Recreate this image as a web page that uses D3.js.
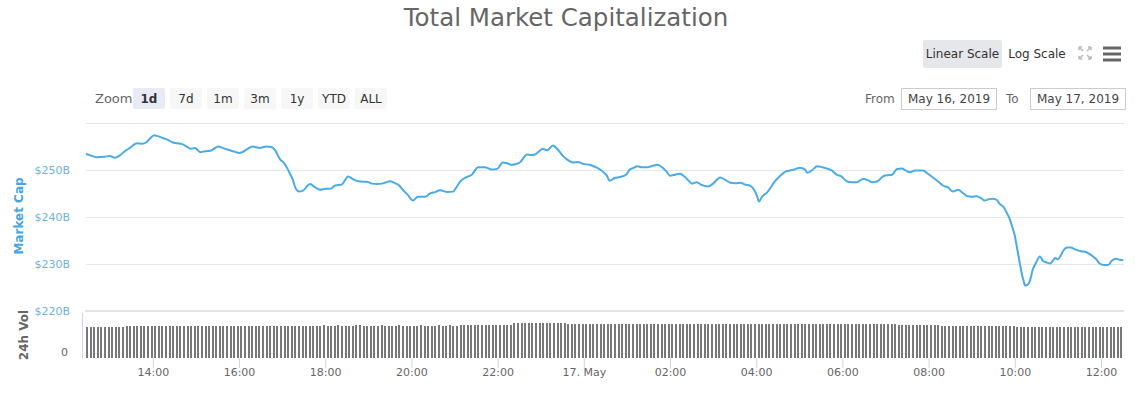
<!DOCTYPE html>
<html>
<head>
<meta charset="utf-8">
<script src="https://cdn.jsdelivr.net/npm/d3@7"></script>
<style>
  body { margin: 0; background: #fff; }
  svg { display: block; font-family: "DejaVu Sans", Verdana, sans-serif; }
</style>
</head>
<body>
<svg id="chart" width="1135" height="399"></svg>
<script>
// Data: total market cap (billions USD), minutes after 16 May 2019 12:27
const startTime = new Date(2019, 4, 16, 12, 27);
const capMinutes = [
  0, 8, 15, 26, 33, 40, 47, 54, 61, 71, 78, 84, 89, 95, 100, 107, 114, 120, 127, 134,
  141, 146, 152, 159, 166, 173, 178, 184, 192, 200, 209, 214, 223, 232, 242, 251, 258, 263, 270, 276,
  280, 284, 288, 292, 297, 302, 312, 319, 326, 334, 340, 347, 356, 365, 372, 379, 386, 391, 398, 405,
  412, 418, 423, 430, 436, 441, 448, 455, 462, 472, 479, 486, 493, 503, 511, 516, 521, 530, 537, 546,
  555, 565, 573, 580, 587, 593, 599, 604, 614, 620, 625, 631, 636, 642, 650, 657, 664, 670, 678, 685,
  692, 701, 711, 720, 725, 729, 736, 743, 752, 757, 763, 767, 774, 782, 789, 795, 802, 808, 813, 820,
  827, 834, 844, 850, 856, 866, 873, 878, 883, 890, 897, 904, 911, 917, 924, 930, 934, 937, 941, 948,
  955, 959, 966, 973, 980, 986, 994, 1001, 1004, 1011, 1018, 1025, 1032, 1038, 1045, 1052, 1059, 1066, 1073, 1082,
  1089, 1094, 1102, 1109, 1116, 1122, 1129, 1136, 1141, 1147, 1154, 1165, 1172, 1179, 1186, 1193, 1200, 1207, 1214, 1220,
  1227, 1233, 1240, 1246, 1251, 1257, 1263, 1268, 1272, 1277, 1281, 1285, 1289, 1293, 1296, 1300, 1303, 1306, 1307, 1311,
  1314, 1318, 1322, 1328, 1332, 1338, 1342, 1346, 1349, 1353, 1357, 1360, 1366, 1371, 1377, 1379, 1385, 1391, 1396, 1402,
  1407, 1411, 1417, 1423, 1428, 1434, 1439, 1444
];
const capValues = [
  253.4, 253.0, 252.7, 252.8, 253.0, 252.6, 253.1, 254.0, 254.7, 255.7, 255.6, 255.9, 256.7, 257.4, 257.2, 256.8, 256.4, 255.9, 255.7, 255.5,
  254.9, 254.5, 254.7, 253.8, 254.0, 254.1, 254.5, 255.0, 254.6, 254.2, 253.8, 253.6, 254.3, 255.0, 254.7, 255.0, 254.9, 254.3, 252.3, 251.4,
  250.4, 249.2, 247.9, 246.0, 245.4, 245.6, 247.0, 246.3, 245.8, 246.0, 246.0, 246.7, 246.9, 248.6, 248.0, 247.6, 247.5, 247.5, 247.1, 247.0,
  247.1, 247.4, 247.6, 247.2, 246.7, 245.8, 244.7, 243.5, 244.3, 244.3, 245.0, 245.3, 245.7, 245.3, 245.4, 246.4, 247.6, 248.5, 249.0, 250.6,
  250.6, 250.1, 250.3, 251.6, 251.4, 251.1, 251.3, 251.6, 253.3, 253.2, 253.3, 254.0, 254.5, 254.2, 255.2, 254.3, 253.0, 252.2, 251.6, 251.7,
  251.3, 251.1, 250.5, 249.6, 248.8, 247.7, 248.3, 248.5, 249.0, 250.1, 250.5, 250.8, 250.6, 250.6, 250.9, 251.1, 250.6, 249.7, 248.8, 249.0,
  249.2, 248.5, 247.1, 247.4, 246.9, 246.5, 247.1, 247.9, 248.4, 247.9, 247.3, 247.2, 247.3, 246.9, 246.7, 245.8, 244.5, 243.3, 244.3, 245.2,
  246.7, 247.6, 248.7, 249.6, 249.9, 250.1, 250.5, 250.1, 249.4, 250.0, 250.8, 250.6, 250.3, 249.9, 249.0, 248.6, 247.6, 247.4, 247.4, 248.1,
  247.8, 247.4, 247.6, 248.6, 248.9, 249.0, 250.2, 250.3, 249.9, 249.5, 249.9, 249.9, 249.2, 248.4, 247.6, 246.7, 246.3, 245.4, 245.8, 245.2,
  244.4, 244.3, 244.4, 244.0, 243.5, 243.8, 243.9, 243.6, 242.8, 242.2, 241.1, 239.9, 238.1, 236.0, 233.5, 230.1, 227.7, 226.0, 225.4, 225.6,
  226.4, 228.8, 230.1, 231.6, 230.7, 230.3, 230.1, 230.7, 231.3, 231.0, 231.8, 232.7, 233.5, 233.5, 233.1, 233.0, 232.7, 232.6, 232.2, 231.6,
  230.9, 230.1, 229.8, 229.8, 230.7, 231.1, 230.9, 230.8
];

// 24h volume (billions USD), one bar every 5 minutes from startTime
const volStepMinutes = 5;
const volValues = [
  68.8, 68.9, 68.9, 69.0, 68.9, 68.8, 68.9, 69.0, 69.1, 69.0, 68.9,
  70.2, 70.3, 70.4, 70.4, 70.5, 70.4, 70.3, 70.4, 70.5, 70.6, 70.5, 70.4, 70.4, 70.3, 70.4, 70.5, 70.5, 70.4, 70.3, 70.4,
  70.4, 70.5, 70.6, 70.5, 70.4, 70.4, 70.3, 70.4, 70.5, 70.4, 70.4, 70.3, 70.4, 70.5, 70.6, 70.5, 70.4, 70.4, 70.5, 70.4,
  70.3, 70.4, 70.5, 70.5, 70.4, 70.4, 70.5, 70.6, 70.5, 70.4, 70.4, 70.5,
  72.1, 72.2, 72.2, 72.3, 72.2, 72.1, 72.2, 72.3, 72.2, 72.2, 72.1, 72.2, 72.3, 72.3, 72.2, 72.2, 72.1, 72.2, 72.2, 72.3,
  72.2, 72.2, 72.1, 72.2, 72.3, 72.2, 72.2, 72.1, 72.2, 72.2, 72.3, 72.2, 72.2, 72.1, 72.2, 72.3, 72.2, 72.2, 72.3, 72.2,
  72.2, 72.3,
  73.2, 73.3, 73.3, 73.4, 73.3, 73.2, 73.3, 73.4, 73.3, 73.3, 73.2, 73.3, 73.4, 73.3,
  78.0, 78.2, 78.3, 78.2, 78.1, 78.2, 78.3, 78.2, 78.2, 78.1, 78.2, 78.3, 78.2, 78.1, 78.0,
  74.9, 74.8, 74.9, 75.0, 74.9, 74.9, 74.8, 74.9, 75.0, 74.9, 74.9, 74.8, 74.9, 74.9, 75.0, 74.9, 74.8, 74.9, 74.9, 75.0,
  74.9, 74.9, 74.8, 74.9, 75.0, 74.9, 74.9, 74.8, 74.9, 74.9, 75.0, 74.9, 74.8, 74.9, 74.9, 74.9, 75.0, 74.9, 74.8, 74.9,
  74.9, 75.0, 74.9, 74.9, 74.8, 74.9, 74.9, 75.0, 74.9, 74.8, 74.9, 74.9, 75.0, 75.1, 75.0, 74.9, 74.9, 74.8, 74.9, 74.9,
  75.0, 74.9, 74.8, 74.9, 74.9, 75.0, 74.9, 74.9, 74.8, 74.9, 74.9, 75.0, 74.9, 74.8, 74.9, 74.9, 75.0, 74.9, 74.9, 74.8,
  74.9, 74.9, 75.0, 74.9, 74.8, 74.9, 74.9, 75.0, 74.9, 74.9, 74.8, 74.9,
  74.0, 74.1, 74.0, 73.9, 74.0, 74.0, 74.1, 74.0, 73.9, 74.0, 74.0, 74.1,
  71.8, 71.9, 71.8, 71.7, 71.8, 71.8, 71.9, 71.8, 71.7, 71.8, 71.8, 71.9, 71.8, 71.7, 71.8, 71.8, 71.9, 71.8, 71.7, 71.8,
  71.8,
  69.6, 69.7, 69.6, 69.5, 69.6, 69.6, 69.7, 69.6, 69.5, 69.6, 69.6, 69.7, 69.6, 69.5, 69.6, 69.6, 69.7, 69.6, 69.5, 69.6,
  69.6, 69.7, 69.6, 69.5, 69.6, 69.6, 69.7, 69.6, 69.5, 69.6
];

const capTicks = [220, 230, 240, 250];
const capGrid = [230, 240, 250, 260];
const zoomButtons = ['1d', '7d', '1m', '3m', '1y', 'YTD', 'ALL'];
const fromDate = 'May 16, 2019';
const toDate = 'May 17, 2019';

const svg = d3.select('#chart');
const plot = {left: 86, right: 1124, top: 123, capBottom: 311, volTop: 313, volBottom: 358};

const minute = 60000;
const capData = capMinutes.map((m, i) => ({t: new Date(+startTime + m * minute), v: capValues[i]}));
const volData = volValues.map((v, i) => ({t: new Date(+startTime + i * volStepMinutes * minute), v: v}));

const x = d3.scaleTime()
  .domain([startTime, new Date(+startTime + 1445 * minute)])
  .range([plot.left, plot.right]);
const yCap = d3.scaleLinear().domain([220, 260]).range([plot.capBottom, plot.top]);
const yVol = d3.scaleLinear().domain([0, 100]).range([plot.volBottom, plot.volTop]);

// Title
svg.append('text')
  .attr('x', 566).attr('y', 26)
  .attr('text-anchor', 'middle')
  .attr('fill', '#666')
  .style('font-size', '24.5px')
  .text('Total Market Capitalization');

// Scale buttons + icons
svg.append('rect').attr('x', 923).attr('y', 40).attr('width', 79).attr('height', 28)
  .attr('rx', 2).attr('fill', '#e6e7ea');
svg.append('text').attr('x', 962.5).attr('y', 58).attr('text-anchor', 'middle')
  .attr('fill', '#333').style('font-size', '12px').text('Linear Scale');
svg.append('text').attr('x', 1037).attr('y', 58).attr('text-anchor', 'middle')
  .attr('fill', '#333').style('font-size', '12px').text('Log Scale');

const ic = svg.append('g').attr('stroke', '#bbb').attr('stroke-width', 1.6).attr('fill', 'none');
[[1079, 47, 1], [1091, 47, -1], [1079, 59, 1], [1091, 59, -1]].forEach(([cx, cy, s], k) => {
  const dy = k < 2 ? 1 : -1;
  ic.append('path').attr('d', `M${cx},${cy} l${s * 4},${dy * 4} M${cx},${cy} l${s * 3},0 M${cx},${cy} l0,${dy * 3}`);
});
[48, 54, 60].forEach(yy => {
  svg.append('line').attr('x1', 1103).attr('x2', 1121).attr('y1', yy).attr('y2', yy)
    .attr('stroke', '#666').attr('stroke-width', 3);
});

// Zoom buttons
svg.append('text').attr('x', 95).attr('y', 103).attr('fill', '#666')
  .style('font-size', '13px').text('Zoom');
zoomButtons.forEach((b, i) => {
  const bx = 133 + i * 37;
  svg.append('rect').attr('x', bx).attr('y', 88).attr('width', 32).attr('height', 21)
    .attr('rx', 2).attr('fill', i === 0 ? '#e6ebf5' : '#f7f7f7');
  svg.append('text').attr('x', bx + 16).attr('y', 103).attr('text-anchor', 'middle')
    .attr('fill', '#333').style('font-size', '12px')
    .style('font-weight', i === 0 ? 'bold' : 'normal').text(b);
});

// Date range inputs
svg.append('text').attr('x', 865).attr('y', 103).attr('fill', '#666')
  .style('font-size', '12px').text('From');
svg.append('text').attr('x', 1006).attr('y', 103).attr('fill', '#666')
  .style('font-size', '12px').text('To');
[[901, fromDate], [1030, toDate]].forEach(([bx, label]) => {
  svg.append('rect').attr('x', bx + 0.5).attr('y', 88.5).attr('width', 95).attr('height', 21)
    .attr('fill', '#fff').attr('stroke', '#ccc');
  svg.append('text').attr('x', bx + 48).attr('y', 103).attr('text-anchor', 'middle')
    .attr('fill', '#444').style('font-size', '12px').text(label);
});

// Gridlines
svg.append('g').selectAll('line').data(capGrid).enter().append('line')
  .attr('x1', plot.left).attr('x2', plot.right)
  .attr('y1', d => Math.round(yCap(d)) + 0.5).attr('y2', d => Math.round(yCap(d)) + 0.5)
  .attr('stroke', '#e6e6e6');
svg.append('line').attr('x1', plot.left - 1).attr('x2', plot.right)
  .attr('y1', plot.capBottom).attr('y2', plot.capBottom)
  .attr('stroke', '#e3e3e3').attr('stroke-width', 2);

// Y axis labels (market cap)
svg.append('g').selectAll('text').data(capTicks).enter().append('text')
  .attr('x', 70).attr('y', d => yCap(d) + 4)
  .attr('text-anchor', 'end')
  .attr('fill', '#6fb0e0')
  .style('font-size', '11px')
  .text(d => '$' + d + 'B');

svg.append('text')
  .attr('transform', 'translate(23,216) rotate(-90)')
  .attr('text-anchor', 'middle')
  .attr('fill', '#44a6e3')
  .style('font-size', '12px').style('font-weight', 'bold')
  .text('Market Cap');

// Volume axis
svg.append('line').attr('x1', 82.5).attr('x2', 82.5).attr('y1', plot.volTop).attr('y2', plot.volBottom)
  .attr('stroke', '#ccd6eb');
svg.append('text').attr('x', 68).attr('y', 356).attr('text-anchor', 'end')
  .attr('fill', '#666').style('font-size', '11px').text('0');
svg.append('text')
  .attr('transform', 'translate(28,335) rotate(-90)')
  .attr('text-anchor', 'middle')
  .attr('fill', '#666')
  .style('font-size', '12px').style('font-weight', 'bold')
  .text('24h Vol');

// Volume bars (snapped to whole pixels so the gaps stay crisp)
svg.append('g').selectAll('rect').data(volData).enter().append('rect')
  .attr('x', d => Math.round(x(d.t)))
  .attr('y', d => Math.round(yVol(d.v)))
  .attr('width', 2)
  .attr('height', d => yVol(0) - Math.round(yVol(d.v)))
  .attr('fill', '#787878')
  .attr('shape-rendering', 'crispEdges');

// Market cap line
const line = d3.line()
  .x(d => x(d.t))
  .y(d => yCap(d.v))
  .curve(d3.curveMonotoneX);
svg.append('path')
  .datum(capData)
  .attr('d', line)
  .attr('fill', 'none')
  .attr('stroke', '#4aace6')
  .attr('stroke-width', 2)
  .attr('stroke-linejoin', 'round');

// X axis
const fmt = d => (d.getHours() === 0 ? d3.timeFormat('%-d. %b')(d) : d3.timeFormat('%H:%M')(d));
const xAxis = svg.append('g')
  .attr('transform', `translate(0,${plot.volBottom})`)
  .call(d3.axisBottom(x).ticks(d3.timeHour.every(2)).tickFormat(fmt).tickSize(10).tickSizeOuter(0));
xAxis.select('.domain').remove();
xAxis.selectAll('.tick line').attr('stroke', '#ccd6eb');
xAxis.selectAll('.tick text')
  .attr('y', 10)
  .attr('fill', '#666')
  .style('font-size', '11px')
  .style('font-family', '"DejaVu Sans", Verdana, sans-serif');
</script>
</body>
</html>
